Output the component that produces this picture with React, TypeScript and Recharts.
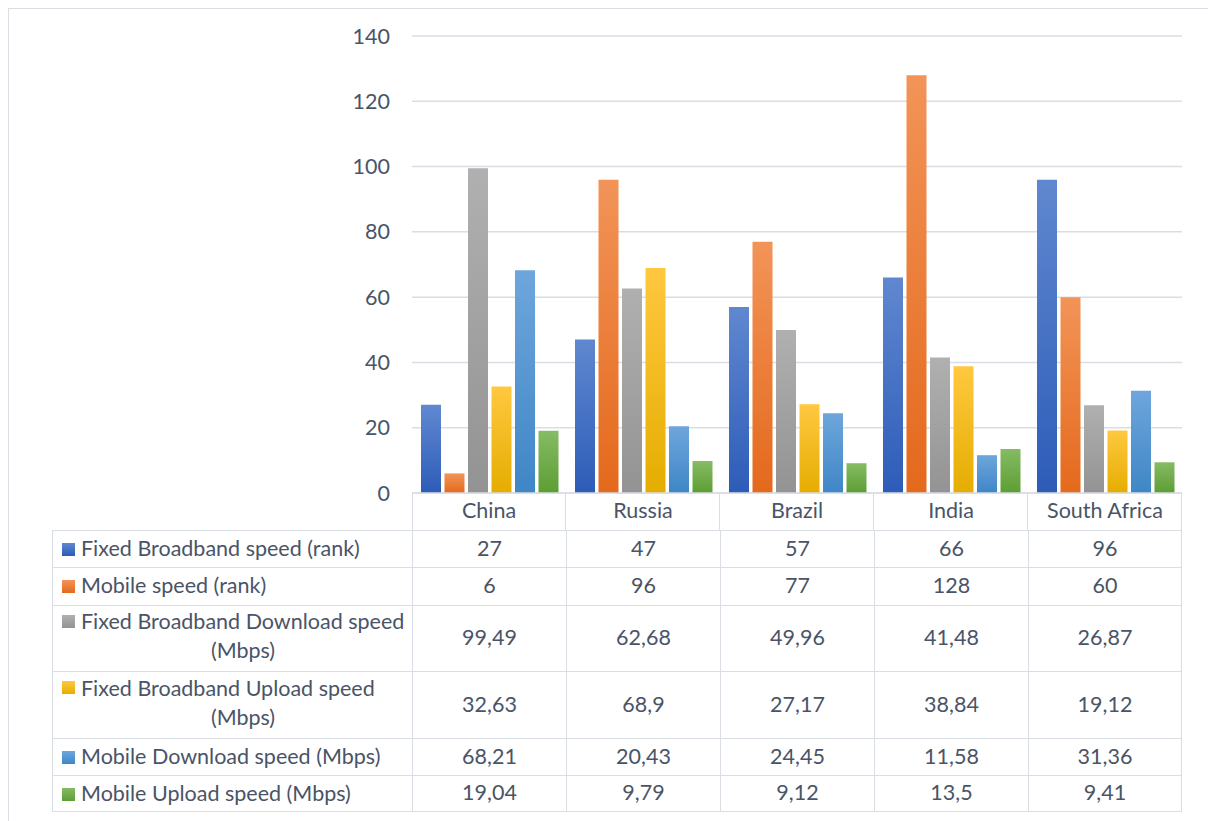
import React from 'react';
import { BarChart, Bar, XAxis, YAxis, CartesianGrid } from 'recharts';

const categories = ['China', 'Russia', 'Brazil', 'India', 'South Africa'];

const fixedRank = [27, 47, 57, 66, 96];
const mobileRank = [6, 96, 77, 128, 60];
const fixedDownload = [99.49, 62.68, 49.96, 41.48, 26.87];
const fixedUpload = [32.63, 68.9, 27.17, 38.84, 19.12];
const mobileDownload = [68.21, 20.43, 24.45, 11.58, 31.36];
const mobileUpload = [19.04, 9.79, 9.12, 13.5, 9.41];

const yTicks = [0, 20, 40, 60, 80, 100, 120, 140];

const series = [
  { key: 'fixedRank', lines: ['Fixed Broadband speed (rank)'], values: fixedRank, top: '#6088d0', bottom: '#2d5cb8' },
  { key: 'mobileRank', lines: ['Mobile speed (rank)'], values: mobileRank, top: '#f29458', bottom: '#e4691c' },
  { key: 'fixedDownload', lines: ['Fixed Broadband Download speed', '(Mbps)'], values: fixedDownload, top: '#b0b0b0', bottom: '#939393' },
  { key: 'fixedUpload', lines: ['Fixed Broadband Upload speed', '(Mbps)'], values: fixedUpload, top: '#ffc840', bottom: '#e5ad00' },
  { key: 'mobileDownload', lines: ['Mobile Download speed (Mbps)'], values: mobileDownload, top: '#6ea6dc', bottom: '#3f86c6' },
  { key: 'mobileUpload', lines: ['Mobile Upload speed (Mbps)'], values: mobileUpload, top: '#86bb64', bottom: '#5c9e33' },
];

const data = categories.map((name, i) => {
  const row: Record<string, string | number> = { name };
  series.forEach((s) => { row[s.key] = s.values[i]; });
  return row;
});

// layout (inside the bordered frame)
const W = 1199;
const H = 812;
const PLOT_LEFT = 403;
const PLOT_RIGHT = 1173;
const PLOT_BOTTOM = 484;
const HEADER_H = 37;
const TABLE_LEFT = 43;
const rowHeights = [37, 38, 66, 67, 37, 37];
const colW = (PLOT_RIGHT - PLOT_LEFT) / categories.length;

const FONT = "Lato, 'Open Sans', sans-serif";
const FS = 21.5;
const TEXT = '#4a5467';
const LINE = '#d9dde4';

const fmt = (v: number) => String(v).replace('.', ',');

const CategoryTick = (props: any) => {
  const { x, payload } = props;
  return (
    <text x={x} y={PLOT_BOTTOM + HEADER_H / 2 - 2} textAnchor="middle" dominantBaseline="central"
      fill={TEXT} fontSize={FS} fontFamily={FONT}>
      {payload.value}
    </text>
  );
};

export default function App() {
  let rowTop = PLOT_BOTTOM + HEADER_H;
  const rows = series.map((s, r) => {
    const top = rowTop;
    rowTop += rowHeights[r];
    return { s, top, h: rowHeights[r] };
  });

  return (
    <div style={{ position: 'absolute', left: 8, top: 8, width: W, height: H, borderLeft: `1px solid ${LINE}`, borderTop: `1px solid ${LINE}`, background: '#fff', fontFamily: FONT, color: TEXT, overflow: 'hidden' }}>
      <BarChart width={W} height={H} data={data}
        margin={{ top: 27, right: W - PLOT_RIGHT, left: PLOT_LEFT - 60, bottom: H - PLOT_BOTTOM - HEADER_H }}
        barCategoryGap={9} barGap={3.5}>
        <defs>
          {series.map((s) => (
            <linearGradient key={s.key} id={`g-${s.key}`} x1="0" y1="0" x2="0" y2="1">
              <stop offset="0%" stopColor={s.top} />
              <stop offset="100%" stopColor={s.bottom} />
            </linearGradient>
          ))}
        </defs>
        <CartesianGrid vertical={false} stroke={LINE} strokeWidth={1.5} />
        <XAxis dataKey="name" height={HEADER_H} tickLine={false} axisLine={{ stroke: LINE, strokeWidth: 1.5 }} tick={<CategoryTick />} interval={0} />
        <YAxis width={60} domain={[0, 140]} ticks={yTicks} axisLine={false} tickLine={false} tickMargin={16}
          tick={{ fill: TEXT, fontSize: FS, fontFamily: FONT }} />
        {series.map((s) => (
          <Bar key={s.key} dataKey={s.key} name={s.lines.join(' ')} fill={`url(#g-${s.key})`} isAnimationActive={false} />
        ))}
      </BarChart>

      {/* data table under the plot */}
      {categories.map((c, i) => (
        <div key={c} style={{ position: 'absolute', left: PLOT_LEFT + i * colW, top: PLOT_BOTTOM, width: colW, height: HEADER_H, borderLeft: i === 0 ? `1px solid ${LINE}` : 'none', borderRight: `1px solid ${LINE}`, boxSizing: 'border-box' }} />
      ))}
      {rows.map(({ s, top, h }, r) => (
        <React.Fragment key={s.key}>
          <div style={{ position: 'absolute', left: TABLE_LEFT, top, width: PLOT_LEFT - TABLE_LEFT, height: h, borderTop: `1px solid ${LINE}`, borderLeft: `1px solid ${LINE}`, borderBottom: r === rows.length - 1 ? `1px solid ${LINE}` : 'none', boxSizing: 'border-box', fontSize: FS }}>
            <div style={{ position: 'absolute', left: 9, top: s.lines.length > 1 ? 9 : (h - 14) / 2, width: 13, height: 13, background: `linear-gradient(${s.top}, ${s.bottom})` }} />
            <div style={{ position: 'absolute', left: 28, width: 324, top: 0, height: h, paddingBottom: s.lines.length > 1 ? 6 : 3, boxSizing: 'border-box', display: 'flex', flexDirection: 'column', justifyContent: 'center', lineHeight: '29px', whiteSpace: 'nowrap' }}>
              {s.lines.map((ln, k) => (
                <div key={k} style={{ textAlign: k === 0 ? 'left' : 'center' }}>{ln}</div>
              ))}
            </div>
          </div>
          {s.values.map((v, i) => (
            <div key={i} style={{ position: 'absolute', left: PLOT_LEFT + i * colW, top, width: colW, height: h, paddingBottom: 3, borderTop: `1px solid ${LINE}`, borderLeft: `1px solid ${LINE}`, borderRight: i === s.values.length - 1 ? `1px solid ${LINE}` : 'none', borderBottom: r === rows.length - 1 ? `1px solid ${LINE}` : 'none', boxSizing: 'border-box', display: 'flex', alignItems: 'center', justifyContent: 'center', fontSize: FS }}>
              {fmt(v)}
            </div>
          ))}
        </React.Fragment>
      ))}
    </div>
  );
}
